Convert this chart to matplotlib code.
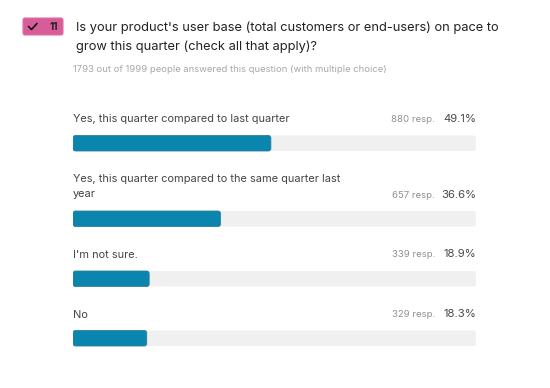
import matplotlib
matplotlib.use("Agg")
import matplotlib.pyplot as plt
from matplotlib.patches import FancyBboxPatch

plt.rcParams['font.family'] = ['Inter', 'DejaVu Sans']

question = ["Is your product's user base (total customers or end-users) on pace to",
            "grow this quarter (check all that apply)?"]
subtitle = "1793 out of 1999 people answered this question (with multiple choice)"
categories = ["Yes, this quarter compared to last quarter",
              "Yes, this quarter compared to the same quarter last\nyear",
              "I'm not sure.",
              "No"]
responses = [880, 657, 339, 329]
percents = [49.1, 36.6, 18.9, 18.3]
badge_number = "11"

W, H = 550, 388
bar_tops = [135.5, 211, 271, 330.5]
bar_h = 15.5
label_y = [119.3, 186.8, 254.7, 314.7]
value_y = [119.2, 195.2, 254.2, 314.2]

fig = plt.figure(figsize=(W / 100, H / 100), dpi=100, facecolor='white')
ax = fig.add_axes([73 / W, 0, (476 - 73) / W, 1])
ax.set_xlim(0, 100)
ax.set_ylim(H, 0)
ax.axis('off')

bg = fig.add_axes([0, 0, 1, 1], zorder=-1)
bg.set_xlim(0, W)
bg.set_ylim(H, 0)
bg.axis('off')

x_per_px = 100 / (476 - 73)
aspect = 1 / x_per_px
r = 2.5 * x_per_px
pad = dict(boxstyle=f"round,pad=0,rounding_size={r}", mutation_aspect=aspect)

for top, pct, cat, n, ly, vy in zip(bar_tops, percents, categories, responses, label_y, value_y):
    ax.add_patch(FancyBboxPatch((0, top), 100, bar_h, fc='#f0f0f0', ec='none', **pad))
    ax.add_patch(FancyBboxPatch((0, top), pct, bar_h, fc='#0a85ae', ec='#2f7f9e', lw=0.6, **pad))
    bg.text(73, ly, cat, fontsize=7.9, color='#444444', va='center', ha='left', linespacing=1.65)
    bg.text(476.5, vy, f"{pct}%", fontsize=8.2, color='#4a4a4a', va='center', ha='right')
    bg.text(435, vy, f"{n} resp.", fontsize=6.9, color='#909090', va='center', ha='right')

bg.text(76.5, 28, question[0], fontsize=9.25, color='#222222', va='center', ha='left')
bg.text(76.5, 46.5, question[1], fontsize=9.25, color='#222222', va='center', ha='left')
bg.text(73, 69, subtitle, fontsize=6.82, color='#a8a8a8', va='center', ha='left')

bg.add_patch(FancyBboxPatch((23, 18), 40, 17, boxstyle="round,pad=0,rounding_size=2",
                            fc='#d85c9a', ec='#e070a8', lw=0.8))
bg.plot([28.5, 31.5, 37], [26.5, 29.5, 23.5], color='#111111', lw=1.2, solid_capstyle='round')
bg.text(53.5, 27, badge_number, fontsize=7.2, fontweight='bold', color='#222222', va='center', ha='center')

fig.savefig('out.png', dpi=100)
